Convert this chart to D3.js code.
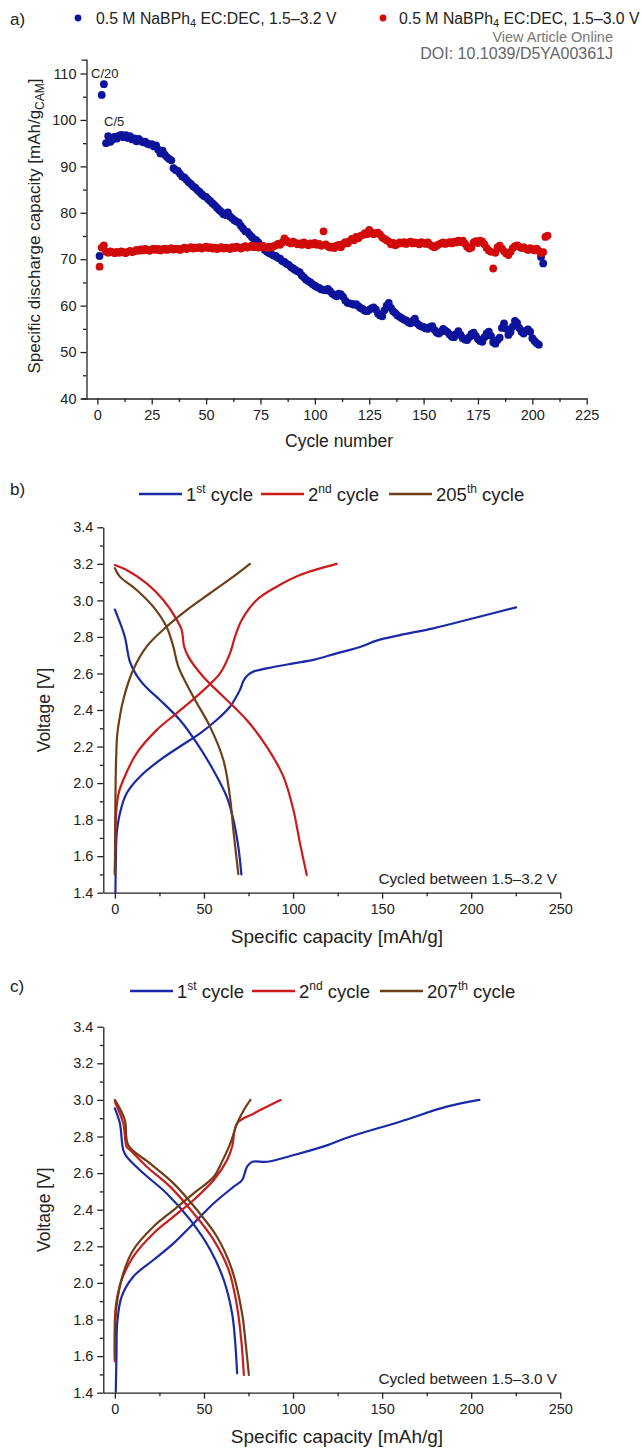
<!DOCTYPE html>
<html><head><meta charset="utf-8">
<script src="https://cdn.jsdelivr.net/npm/d3@7"></script>
<style>body{margin:0;background:#fff;} svg{display:block;font-family:"Liberation Sans",Arial,sans-serif;}</style>
</head><body><svg id="c" width="642" height="1450"></svg>
<script>
// ---------- DATA ----------
// Panel a: specific discharge capacity per cycle (cycle = index + 1)
const capBlue32 = [70.7,105.4,107.7,95.0,96.5,95.3,95.8,96.4,96.0,96.6,
96.8,96.3,96.7,96.1,96.5,95.8,96.0,95.4,95.9,95.5,
95.2,95.3,94.9,94.7,94.8,94.3,94.5,93.6,92.8,93.4,
92.5,92.0,91.6,91.3,89.6,89.2,89.0,88.4,87.8,87.6,
87.1,86.6,86.2,85.7,85.4,84.9,84.5,84.0,83.6,83.4,
82.9,82.5,82.0,81.6,81.1,80.6,80.2,79.7,79.5,80.1,
79.2,78.8,78.4,78.1,77.9,77.2,76.6,76.0,75.9,75.3,
74.8,74.3,74.1,73.6,73.0,72.6,72.0,71.6,71.3,71.1,
70.8,70.7,70.3,70.1,69.6,69.4,69.0,68.8,68.3,68.0,
67.7,67.4,67.2,66.5,66.1,65.6,65.3,65.0,64.6,64.3,
64.0,63.8,63.5,63.4,63.3,63.6,63.1,62.6,62.3,62.0,
62.6,62.4,61.9,61.1,60.6,60.5,60.4,60.2,60.3,59.9,
59.5,59.3,58.9,58.8,59.1,59.4,59.6,59.2,58.3,57.9,
57.7,59.0,60.0,60.6,59.5,58.8,58.4,57.9,57.6,57.3,
57.0,56.8,56.4,56.2,56.7,57.2,56.2,55.8,55.5,55.4,
55.1,55.0,55.4,55.6,54.8,54.2,54.0,54.4,55.0,54.6,
54.3,53.8,53.3,53.2,53.9,54.5,53.7,53.0,52.7,52.6,
53.2,53.9,54.2,53.5,52.8,52.4,52.2,53.2,54.0,54.4,
53.5,52.1,51.8,52.6,53.1,55.2,56.2,55.0,53.7,54.3,
55.5,56.7,56.3,55.2,54.4,54.0,54.6,54.9,54.4,53.0,
52.4,51.9,51.6,70.5,69.1];
const capRed30 = [68.4,72.5,73.0,71.6,71.4,71.7,71.5,71.3,71.6,71.4,
71.7,71.5,71.3,71.6,71.8,71.5,71.7,72.0,71.8,72.1,
71.9,72.2,72.0,71.8,72.1,72.3,72.0,72.2,71.9,72.1,
72.3,72.0,72.2,72.4,72.1,72.3,72.2,72.0,72.3,72.5,
72.2,72.4,72.6,72.3,72.5,72.4,72.6,72.3,72.5,72.7,
72.4,72.6,72.3,72.5,72.2,72.4,72.6,72.3,72.5,72.4,
72.2,72.6,72.4,72.7,72.5,72.3,72.6,72.8,72.5,72.7,
72.9,72.6,72.8,72.5,72.7,72.9,72.6,72.4,72.7,72.5,
72.8,73.0,73.3,73.1,73.6,74.5,74.0,73.6,73.4,73.8,
73.5,73.2,73.4,73.1,73.6,73.3,73.0,73.4,73.2,73.5,
73.1,73.3,72.9,76.0,73.2,72.8,72.5,72.7,72.4,72.9,
73.1,72.6,73.3,73.7,73.4,73.9,74.4,74.1,74.8,74.5,
75.0,75.2,75.6,75.4,76.3,75.8,75.4,75.6,75.7,75.3,
74.7,74.4,74.1,73.8,73.2,73.5,73.0,73.3,73.6,73.4,
73.7,73.3,73.6,73.8,73.4,73.6,73.5,73.2,73.7,73.5,
73.3,73.6,73.1,72.8,72.6,72.9,73.2,73.4,73.6,73.3,
73.5,73.7,73.4,73.8,73.6,74.0,73.7,74.0,73.4,72.7,
72.3,72.5,73.6,73.9,73.5,74.0,73.8,73.2,72.4,71.9,
71.6,68.0,71.4,72.6,72.9,72.3,71.7,71.2,70.9,71.6,
72.4,72.8,73.0,72.7,72.4,72.6,72.3,72.0,72.4,72.2,
71.9,72.3,71.8,71.3,71.5,74.8,75.1];

const legendA = ["0.5 M NaBPh", "4", " EC:DEC, 1.5–3.2 V", " EC:DEC, 1.5–3.0 V"];
const aXTicks = [0,25,50,75,100,125,150,175,200,225];
const aYTicks = [40,50,60,70,80,90,100,110];

// Panel b: voltage profiles, cycled 1.5–3.2 V  ([capacity mAh/g, voltage V])
const b1Dis = [[0,2.95],[2,2.90],[5.6,2.80],[8.4,2.665],[12.2,2.59],[18,2.52],[25.3,2.455],[36.5,2.345],[45.9,2.22],[55.3,2.07],[62.8,1.925],[66.5,1.80],[69.3,1.65],[71,1.50]];
const b1Cha = [[0.3,1.40],[0.6,1.60],[1.0,1.72],[2.8,1.834],[6.6,1.944],[14,2.035],[25.3,2.126],[36.5,2.20],[47.8,2.272],[57.1,2.345],[64.6,2.418],[68,2.47],[70.2,2.51],[72.2,2.56],[74.5,2.59],[77.7,2.61],[85.2,2.628],[100.2,2.655],[111.4,2.674],[124.5,2.71],[137.6,2.745],[146.9,2.78],[160,2.81],[178.7,2.847],[201.2,2.902],[225.2,2.962]];
const b2Cha = [[0,1.5],[0.3,1.70],[0.7,1.834],[2,1.94],[4.7,2.017],[12.2,2.163],[23.4,2.29],[34.6,2.382],[47.8,2.491],[59,2.60],[64.6,2.71],[67.4,2.80],[71.2,2.893],[79.6,3.002],[90.8,3.075],[103.9,3.139],[124.5,3.20]];
const b2Dis = [[0,3.194],[6.6,3.166],[17.8,3.093],[27.2,3.002],[33.7,2.911],[37.5,2.838],[38.8,2.75],[41.2,2.692],[49.6,2.582],[60.9,2.473],[74,2.345],[85.2,2.20],[94.6,2.035],[100.2,1.853],[103.9,1.67],[107.7,1.497]];
const b205Cha = [[0,1.5],[0.2,1.8],[0.6,2.1],[1.2,2.25],[1.9,2.31],[4.7,2.455],[10.3,2.62],[17.8,2.747],[29,2.856],[40.3,2.947],[53.4,3.039],[66.5,3.13],[75.8,3.20]];
const b205Dis = [[0,3.176],[2.8,3.13],[12.2,3.057],[21.5,2.966],[29,2.856],[32.8,2.747],[35.6,2.637],[44,2.473],[53.4,2.309],[60.9,2.126],[64.6,1.925],[66.5,1.743],[69.3,1.502]];

// Panel c: voltage profiles, cycled 1.5–3.0 V
const c1Dis = [[0,2.954],[2.8,2.872],[4.7,2.726],[6.6,2.69],[16,2.599],[29.1,2.489],[42.3,2.344],[53.6,2.18],[61.1,2.016],[65.8,1.833],[67.5,1.68],[68.6,1.506]];
const c1Cha = [[0.5,1.405],[0.9,1.60],[1.3,1.779],[3.8,1.925],[10.3,2.034],[21.6,2.125],[32.9,2.216],[44.2,2.325],[55.5,2.435],[66.7,2.526],[71.4,2.562],[74.2,2.635],[77.1,2.662],[85.5,2.662],[100.6,2.699],[119.4,2.753],[131.9,2.799],[160,2.881],[186.2,2.963],[204.6,3.0]];
const c2Dis = [[0,2.99],[4.7,2.872],[6.6,2.744],[8.5,2.726],[17.9,2.635],[31,2.526],[44.2,2.38],[55.5,2.234],[63.9,2.07],[68.6,1.87],[71,1.68],[72.4,1.497]];
const c2Cha = [[0,1.57],[0.5,1.87],[3.8,2.016],[10.3,2.143],[21.6,2.27],[32.9,2.362],[44.2,2.453],[55.5,2.562],[63,2.671],[65.8,2.744],[68.6,2.872],[78,2.926],[93,2.999]];
const c207Dis = [[0,3.0],[5.6,2.89],[7.5,2.753],[19.7,2.653],[32.9,2.544],[46.1,2.398],[57.3,2.252],[65.8,2.07],[71.4,1.833],[73.5,1.66],[75.2,1.497]];
const c207Cha = [[0,1.58],[0.9,1.87],[4.7,2.052],[10.3,2.18],[21.6,2.307],[32.9,2.398],[44.2,2.489],[55.5,2.58],[60,2.66],[64.8,2.762],[68.6,2.872],[72.4,2.945],[76.1,3.0]];

const vXTicks = [0,50,100,150,200,250];
const vXMinor = [25,75,125,175,225];
const vYTicks = [1.4,1.6,1.8,2.0,2.2,2.4,2.6,2.8,3.0,3.2,3.4];
const vYMinor = [1.5,1.7,1.9,2.1,2.3,2.5,2.7,2.9,3.1,3.3];
const legendB = ["1", "st", " cycle", "2", "nd", " cycle", "205", "th", " cycle"];
const legendC = ["1", "st", " cycle", "2", "nd", " cycle", "207", "th", " cycle"];

// ---------- STYLE ----------
const BLUE = "#1a2aa6", RED = "#cc1b1b", BROWN = "#6e3f16";
const DOTBLUE = "#0d139a", DOTRED = "#d10a0a";
const AX = "#222";
const svg = d3.select("#c");

function drawAxes(x, y, o) {
  const g = svg.append("g").attr("font-size", 14.5).attr("fill", AX);
  const x0 = x.range()[0], y0 = y.range()[0];
  const st = sel => { sel.selectAll("path,line").attr("stroke", AX).attr("stroke-width", 1.3);
    sel.selectAll("text").attr("fill", AX).attr("font-size", 14.5).attr("font-family", '"Liberation Sans",Arial,sans-serif'); };
  g.append("g").attr("transform", `translate(0,${y0})`)
    .call(d3.axisBottom(x).tickValues(o.xMaj).tickSize(6).tickSizeOuter(0).tickPadding(5).tickFormat(o.xFmt)).call(st);
  g.append("g").attr("transform", `translate(0,${y0})`)
    .call(d3.axisBottom(x).tickValues(o.xMin).tickSize(3.5).tickFormat("")).call(st)
    .call(s => s.select(".domain").remove());
  g.append("g").attr("transform", `translate(${x0},0)`)
    .call(d3.axisLeft(y).tickValues(o.yMaj).tickSize(6).tickSizeOuter(o.yOuter || 0).tickPadding(4).tickFormat(o.yFmt)).call(st);
  g.append("g").attr("transform", `translate(${x0},0)`)
    .call(d3.axisLeft(y).tickValues(o.yMin).tickSize(3.5).tickFormat("")).call(st)
    .call(s => s.select(".domain").remove());
}

function label(x, y, txt, size, opts = {}) {
  const t = svg.append("text").attr("x", x).attr("y", y).attr("font-size", size).attr("fill", opts.fill || AX)
    .attr("text-anchor", opts.anchor || "start");
  if (opts.rotate) t.attr("transform", `rotate(-90,${x},${y})`);
  t.text(txt);
  return t;
}

// ---------- PANEL A ----------
const ax = d3.scaleLinear().domain([-5, 225]).range([86.5, 586.7]);
const ay = d3.scaleLinear().domain([40, 113]).range([398.5, 59.6]);
drawAxes(ax, ay, { xMaj: aXTicks, xMin: aXTicks.slice(0, -1).map(d => d + 12.5), xFmt: d3.format("d"),
  yMaj: aYTicks, yMin: aYTicks.slice(0, -1).map(d => d + 5), yFmt: d3.format("d"), yOuter: 5 });

svg.append("g").selectAll("circle").data(capBlue32).join("circle")
  .attr("cx", (d, i) => ax(i + 1)).attr("cy", d => ay(d)).attr("r", 3.9).attr("fill", DOTBLUE);
svg.append("g").selectAll("circle").data(capRed30).join("circle")
  .attr("cx", (d, i) => ax(i + 1)).attr("cy", d => ay(d)).attr("r", 3.9).attr("fill", DOTRED);

label(91, 78, "C/20", 13);
label(104, 126, "C/5", 13);
label(339, 447, "Cycle number", 17.5, { anchor: "middle" });
{
  const t = svg.append("text").attr("transform", "translate(40,226) rotate(-90)").attr("text-anchor", "middle")
    .attr("font-size", 17).attr("fill", AX);
  t.append("tspan").text("Specific discharge capacity [mAh/g");
  t.append("tspan").text("CAM").attr("font-size", 12).attr("dy", 4);
  t.append("tspan").text("]").attr("dy", -4);
}
label(10, 25, "a)", 17);

// legend a
function legA(cx, tx, color, tail) {
  svg.append("circle").attr("cx", cx).attr("cy", 18).attr("r", 3.4).attr("fill", color);
  const t = svg.append("text").attr("x", tx).attr("y", 23.5).attr("font-size", 15.8).attr("fill", AX);
  t.append("tspan").text(legendA[0]);
  t.append("tspan").text(legendA[1]).attr("font-size", 11).attr("dy", 3.5);
  t.append("tspan").text(tail).attr("dy", -3.5);
}
legA(78, 96, DOTBLUE, legendA[2]);
legA(383, 399, DOTRED, legendA[3]);

// watermark text
label(613, 42, "View Article Online", 14.5, { anchor: "end", fill: "#777" });
label(613, 58.5, "DOI: 10.1039/D5YA00361J", 16, { anchor: "end", fill: "#666" });

// ---------- PANELS B & C ----------
function voltagePanel(yTop, yBot, curves, legend, legY, legX, panelLbl, cycledTxt) {
  const x = d3.scaleLinear().domain([-6.5, 250]).range([103.3, 560.3]);
  const y = d3.scaleLinear().domain([1.4, 3.4]).range([yBot, yTop]);
  drawAxes(x, y, { xMaj: vXTicks, xMin: vXMinor, xFmt: d3.format("d"),
    yMaj: vYTicks, yMin: vYMinor, yFmt: d3.format(".1f") });
  const line = d3.line().x(d => x(d[0])).y(d => y(d[1])).curve(d3.curveCatmullRom.alpha(0.5));
  curves.forEach(c => svg.append("path").attr("d", line(c.data)).attr("fill", "none")
    .attr("stroke", c.color).attr("stroke-width", 2.2).attr("stroke-linejoin", "round").attr("stroke-linecap", "round"));
  label(557, yBot - 9, cycledTxt, 15.3, { anchor: "end" });
  label(337, yBot + 50, "Specific capacity [mAh/g]", 19, { anchor: "middle" });
  label(50, (yTop + yBot) / 2, "Voltage [V]", 17.5, { anchor: "middle", rotate: true });
  label(10, legY + 1, panelLbl, 17);
  const cols = [BLUE, RED, BROWN];
  cols.forEach((c, i) => {
    const lx = legX[i];
    svg.append("line").attr("x1", lx).attr("x2", lx + 43).attr("y1", legY).attr("y2", legY)
      .attr("stroke", c).attr("stroke-width", 2.5);
    const t = svg.append("text").attr("x", lx + 47).attr("y", legY + 7).attr("font-size", 18.5).attr("fill", AX);
    t.append("tspan").text(legend[i * 3]);
    t.append("tspan").text(legend[i * 3 + 1]).attr("font-size", 12).attr("dy", -8);
    t.append("tspan").text(legend[i * 3 + 2]).attr("dy", 8);
  });
}

voltagePanel(527.3, 892.7, [
  { data: b1Dis, color: BLUE }, { data: b1Cha, color: BLUE },
  { data: b2Dis, color: RED }, { data: b2Cha, color: RED },
  { data: b205Dis, color: BROWN }, { data: b205Cha, color: BROWN }
], legendB, 494, [139, 261, 389], "b)", "Cycled between 1.5–3.2 V");

voltagePanel(1026.7, 1392.7, [
  { data: c1Dis, color: BLUE }, { data: c1Cha, color: BLUE },
  { data: c2Dis, color: RED }, { data: c2Cha, color: RED },
  { data: c207Dis, color: BROWN }, { data: c207Cha, color: BROWN }
], legendC, 991, [130, 252, 380], "c)", "Cycled between 1.5–3.0 V");
</script></body></html>
